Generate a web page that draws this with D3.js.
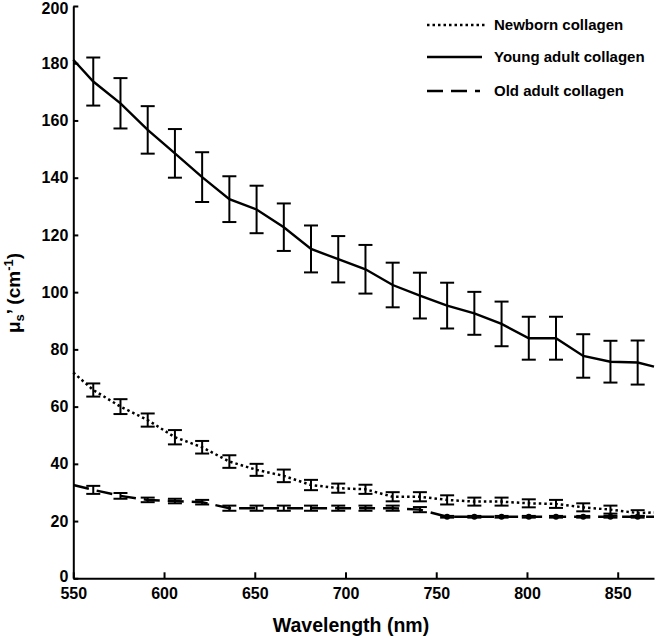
<!DOCTYPE html>
<html>
<head>
<meta charset="utf-8">
<script src="https://cdn.jsdelivr.net/npm/d3@7"></script>
<style>
  body { margin: 0; background: #fff; }
  svg { display: block; font-family: "Liberation Sans", Arial, sans-serif; }
</style>
</head>
<body>
<svg id="chart" width="656" height="637"></svg>
<script>
// wavelengths where error bars are drawn (nm)
const wavelengths = [561, 576, 591, 606, 621, 636, 651, 666, 681, 696, 711, 726, 741, 756, 771, 786, 801, 816, 831, 846, 861];

const youngMean = [173.6, 166.0, 156.7, 148.5, 140.2, 132.5, 128.9, 122.7, 115.1, 111.5, 108.0, 102.5, 98.8, 95.3, 92.6, 88.9, 83.9, 83.9, 77.7, 75.7, 75.4];
const youngErr  = [8.4, 8.8, 8.3, 8.5, 8.7, 8.0, 8.3, 8.3, 8.2, 8.1, 8.5, 7.8, 8.0, 8.0, 7.5, 7.8, 7.5, 7.5, 7.6, 7.3, 7.7];

const newbornMean = [65.8, 60.0, 55.3, 49.3, 45.8, 40.8, 37.9, 35.8, 32.6, 31.5, 31.1, 28.5, 28.5, 27.4, 26.8, 26.8, 26.2, 26.0, 24.8, 24.0, 22.8];
const newbornErr  = [2.3, 2.6, 2.3, 2.5, 2.2, 2.2, 2.1, 2.2, 1.8, 1.6, 1.6, 1.6, 1.6, 1.6, 1.4, 1.4, 1.4, 1.4, 1.4, 1.4, 1.0];

const oldMean = [30.9, 28.8, 27.4, 27.0, 26.6, 24.5, 24.5, 24.5, 24.5, 24.5, 24.5, 24.5, 24.0, 21.5, 21.5, 21.5, 21.5, 21.5, 21.5, 21.5, 21.5];
const oldErr  = [1.4, 1.0, 0.8, 0.8, 0.8, 0.9, 0.9, 0.9, 0.9, 0.9, 0.9, 0.9, 0.9, 0.3, 0.3, 0.3, 0.3, 0.3, 0.3, 0.3, 0.3];

// line values at the plot edges (550 and 870 nm)
const edgeWl = [550, 870];
const youngEdge = [181.2, 74.0];
const newbornEdge = [71.9, 23.0];
const oldEdge = [32.6, 21.5];

const xTicks = [550, 600, 650, 700, 750, 800, 850];
const yTicks = [0, 20, 40, 60, 80, 100, 120, 140, 160, 180, 200];

const legendLabels = ['Newborn collagen', 'Young adult collagen', 'Old adult collagen'];

const svg = d3.select('#chart');
const x = d3.scaleLinear().domain([550, 870]).range([73.3, 654]);
const y = d3.scaleLinear().domain([0, 200]).range([578.3, 6]);

function build(mean, err, edge){
  const pts = wavelengths.map((w, i) => ({ w, v: mean[i], e: err[i] }));
  const line = [{ w: edgeWl[0], v: edge[0] }, ...pts, { w: edgeWl[1], v: edge[1] }];
  return { pts, line };
}

const series = [
  { name: 'newborn', ...build(newbornMean, newbornErr, newbornEdge), dash: '2.5,3', width: 2.5 },
  { name: 'young', ...build(youngMean, youngErr, youngEdge), dash: null, width: 2.4 },
  { name: 'old', ...build(oldMean, oldErr, oldEdge), dash: '16,8', width: 2.5 }
];

const lineGen = d3.line().x(d => x(d.w)).y(d => y(d.v));

// axes
const xAxis = svg.append('g')
  .attr('transform', `translate(0,${y(0)})`)
  .call(d3.axisBottom(x).tickValues(xTicks).tickSizeInner(-6).tickSizeOuter(0).tickPadding(9));
const yAxis = svg.append('g')
  .attr('transform', `translate(${x(550)},0)`)
  .call(d3.axisLeft(y).tickValues(yTicks).tickSizeInner(-5).tickSizeOuter(0).tickPadding(5));

[xAxis, yAxis].forEach(g => {
  g.select('.domain').attr('stroke', '#000').attr('stroke-width', 2);
  g.selectAll('.tick line').attr('stroke', '#000').attr('stroke-width', 2);
  g.selectAll('.tick text')
    .attr('fill', '#000')
    .style('font-family', '"Liberation Sans", Arial, sans-serif')
    .style('font-size', '16px')
    .style('font-weight', 'bold');
});
// keep the end labels clear of the edge and of the x labels
yAxis.selectAll('.tick text').filter(d => d === 200).attr('dy', '0.45em');
yAxis.selectAll('.tick text').filter(d => d === 0).attr('dy', '0.2em');

// error bars
const cap = 7;
series.forEach(s => {
  const g = svg.append('g').attr('class', 'err-' + s.name);
  s.pts.forEach(d => {
    const cx = x(d.w);
    g.append('line').attr('x1', cx).attr('x2', cx).attr('y1', y(d.v - d.e)).attr('y2', y(d.v + d.e))
      .attr('stroke', '#000').attr('stroke-width', 2);
    [d.v - d.e, d.v + d.e].forEach(v => {
      g.append('line').attr('x1', cx - cap).attr('x2', cx + cap).attr('y1', y(v)).attr('y2', y(v))
        .attr('stroke', '#000').attr('stroke-width', 2);
    });
  });
});

// lines
series.forEach(s => {
  svg.append('path')
    .datum(s.line)
    .attr('d', lineGen)
    .attr('fill', 'none')
    .attr('stroke', '#000')
    .attr('stroke-width', s.width)
    .attr('stroke-dasharray', s.dash);
});

// small markers on the old adult curve where it flattens
svg.append('g').selectAll('circle')
  .data(series[2].pts.filter(d => d.w >= 756))
  .join('circle')
  .attr('cx', d => x(d.w))
  .attr('cy', d => y(d.v))
  .attr('r', 3)
  .attr('fill', '#000');

// axis titles
svg.append('text')
  .attr('x', 351)
  .attr('y', 632)
  .attr('text-anchor', 'middle')
  .style('font-size', '19.5px')
  .style('font-weight', 'bold')
  .text('Wavelength (nm)');

const yt = svg.append('text')
  .attr('transform', 'translate(20,293) rotate(-90)')
  .attr('text-anchor', 'middle')
  .style('font-size', '19px')
  .style('font-weight', 'bold');
yt.append('tspan').text('\u03bc');
yt.append('tspan').attr('dy', 4).style('font-size', '13px').text('s');
yt.append('tspan').attr('dy', -4).text('\u2019 (cm');
yt.append('tspan').attr('dy', -7).style('font-size', '13px').text('-1');
yt.append('tspan').attr('dy', 7).text(')');

// legend
const legendY = [25, 57, 91];
const legendEnd = [487, 482, 480];
const legend = svg.append('g');
series.forEach((s, i) => {
  legend.append('line')
    .attr('x1', 427).attr('x2', legendEnd[i])
    .attr('y1', legendY[i]).attr('y2', legendY[i])
    .attr('stroke', '#000')
    .attr('stroke-width', s.width)
    .attr('stroke-dasharray', s.dash);
  legend.append('text')
    .attr('x', 494)
    .attr('y', legendY[i])
    .attr('dy', '0.36em')
    .style('font-size', '15px')
    .style('font-weight', 'bold')
    .text(legendLabels[i]);
});
</script>
</body>
</html>
